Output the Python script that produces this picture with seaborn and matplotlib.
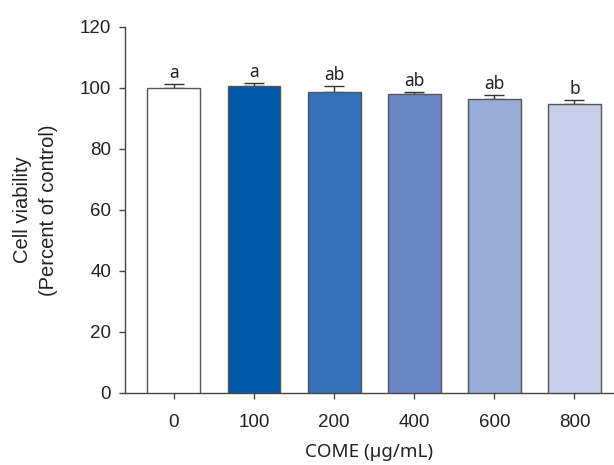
import matplotlib
matplotlib.use("Agg")
import matplotlib.pyplot as plt
import seaborn as sns
import pandas as pd

categories = ["0", "100", "200", "400", "600", "800"]
viability = [100.0, 100.7, 98.8, 98.0, 96.4, 94.8]
errors = [1.2, 0.8, 1.8, 0.6, 1.3, 1.1]
letters = ["a", "a", "ab", "ab", "ab", "b"]
colors = ["#ffffff", "#0058a8", "#3571b8", "#6c88c4", "#98acd6", "#c6cee8"]

sns.set_theme(style="ticks")
plt.rcParams["font.family"] = ["Liberation Sans", "DejaVu Sans"]

df = pd.DataFrame({"dose": categories, "viability": viability})

fig = plt.figure(figsize=(6.14, 4.65), dpi=100)
ax = fig.add_axes([0.2036, 0.155, 0.796, 0.787])

sns.barplot(data=df, x="dose", y="viability", hue="dose", palette=colors,
            order=categories, hue_order=categories, legend=False, saturation=1,
            edgecolor="#555555", linewidth=1.0, width=0.66, errorbar=None, ax=ax, zorder=3)

xs = list(range(len(categories)))
ax.errorbar(xs, viability, yerr=[[0] * 6, errors], fmt="none", ecolor="#333333",
            elinewidth=1.0, capsize=7, capthick=1.0, zorder=2)

for x, v, e, t in zip(xs, viability, errors, letters):
    ax.text(x, v + e + 0.7, t, ha="center", va="bottom", fontsize=12.5,
            family=["Noto Sans", "DejaVu Sans"], color="#222222")

ax.set_ylim(0, 120)
ax.set_yticks([0, 20, 40, 60, 80, 100, 120])
ax.set_xlim(-0.61, 5.49)
sns.despine(ax=ax)
for s in ["left", "bottom"]:
    ax.spines[s].set_color("#444444")
    ax.spines[s].set_linewidth(1.0)
ax.tick_params(axis="both", direction="out", length=4, width=1.0, color="#444444",
               labelsize=13.5, labelcolor="#222222")
ax.tick_params(axis="y", pad=6)
ax.tick_params(axis="x", pad=11)
ax.set_xlabel("COME (µg/mL)", fontsize=13.5, family=["Noto Sans", "DejaVu Sans"],
              color="#222222", labelpad=9)
ax.set_ylabel("Cell viability\n(Percent of control)", fontsize=14.5, color="#222222",
              labelpad=16, linespacing=1.45)

fig.savefig("out.png", dpi=100)
